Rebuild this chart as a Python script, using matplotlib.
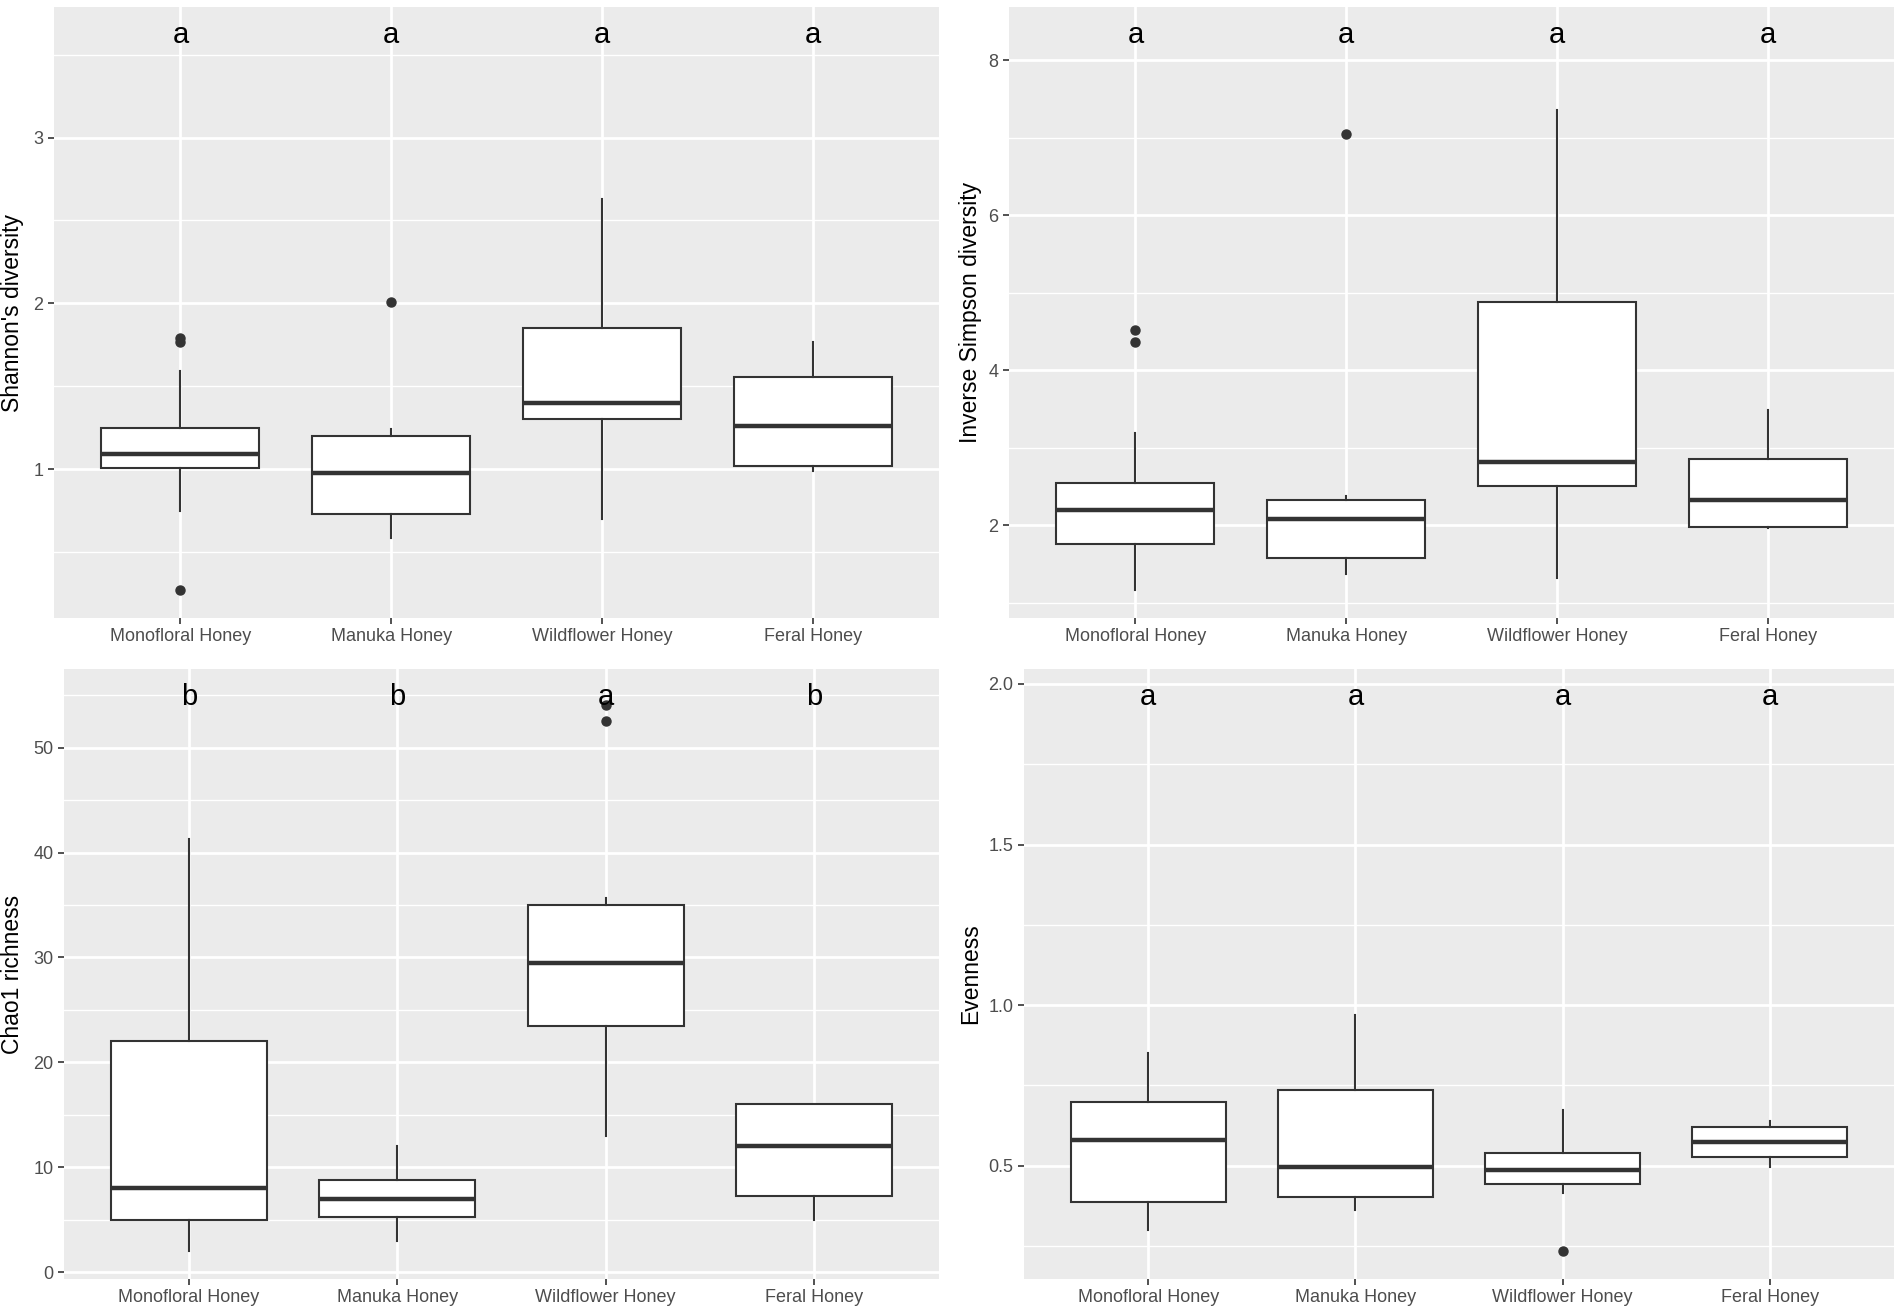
import numpy as np
import matplotlib
matplotlib.use("Agg")
import matplotlib.pyplot as plt

plt.rcParams['font.family'] = ['Liberation Sans', 'DejaVu Sans']

groups = ["Monofloral Honey", "Manuka Honey", "Wildflower Honey", "Feral Honey"]

# Shannon's diversity
shannon_q1 = [1.01, 0.73, 1.30, 1.02]
shannon_med = [1.09, 0.98, 1.40, 1.26]
shannon_q3 = [1.25, 1.20, 1.85, 1.555]
shannon_lo = [0.745, 0.585, 0.70, 0.99]
shannon_hi = [1.59, 1.24, 2.63, 1.765]
shannon_out = [[1.79, 1.77, 0.27], [2.01], [], []]
shannon_letters = ["a", "a", "a", "a"]
shannon_letter_y = 3.62

# Inverse Simpson diversity
invsimp_q1 = [1.76, 1.58, 2.50, 1.98]
invsimp_med = [2.20, 2.08, 2.81, 2.32]
invsimp_q3 = [2.545, 2.33, 4.88, 2.85]
invsimp_lo = [1.16, 1.37, 1.32, 1.96]
invsimp_hi = [3.19, 2.38, 7.36, 3.48]
invsimp_out = [[4.515, 4.36], [7.05], [], []]
invsimp_letters = ["a", "a", "a", "a"]
invsimp_letter_y = 8.33

# Chao1 richness
chao_q1 = [5.0, 5.3, 23.5, 7.3]
chao_med = [8.0, 7.0, 29.5, 12.0]
chao_q3 = [22.0, 8.8, 35.0, 16.0]
chao_lo = [2.0, 3.0, 13.0, 5.0]
chao_hi = [41.3, 12.0, 35.7, 16.0]
chao_out = [[], [], [54.1, 52.5], []]
chao_letters = ["b", "b", "a", "b"]
chao_letter_y = 54.85

# Evenness
even_q1 = [0.387, 0.404, 0.444, 0.526]
even_med = [0.579, 0.496, 0.488, 0.575]
even_q3 = [0.699, 0.736, 0.539, 0.620]
even_lo = [0.30, 0.362, 0.414, 0.496]
even_hi = [0.85, 0.968, 0.673, 0.638]
even_out = [[], [], [0.234], []]
even_letters = ["a", "a", "a", "a"]
even_letter_y = 1.96

W, H = 1901, 1314
fig = plt.figure(figsize=(W / 100, H / 100), dpi=100)


def panel(rect_px, q1, med, q3, lo, hi, out, letters, letter_y, ylabel, yticks, ytitle_x):
    x0, y0, x1, y1 = rect_px
    ax = fig.add_axes([x0 / W, 1 - y1 / H, (x1 - x0) / W, (y1 - y0) / H])
    ax.set_facecolor("#EBEBEB")
    stats = []
    for i in range(len(groups)):
        stats.append(dict(q1=q1[i], med=med[i], q3=q3[i], whislo=lo[i], whishi=hi[i],
                          fliers=out[i], label=groups[i]))
    pos = np.arange(1, len(groups) + 1)
    ax.bxp(stats, positions=pos, widths=0.75, showcaps=False, patch_artist=True,
           boxprops=dict(facecolor="white", edgecolor="#333333", linewidth=1.5),
           medianprops=dict(color="#333333", linewidth=3.2, solid_capstyle="butt"),
           whiskerprops=dict(color="#333333", linewidth=1.5),
           flierprops=dict(marker="o", markerfacecolor="#333333", markeredgecolor="#333333",
                           markersize=6.5))
    for p, t in zip(pos, letters):
        ax.text(p, letter_y, t, ha="center", va="center", fontsize=21, color="black")

    # ggplot-like 5% expansion of the data range
    allv = lo + hi + [letter_y] + [v for o in out for v in o]
    lo_v, hi_v = min(allv), max(allv)
    pad = (hi_v - lo_v) * 0.05
    ylo, yhi = lo_v - pad, hi_v + pad

    ax.set_yticks(yticks)
    step = yticks[1] - yticks[0]
    minor = np.arange(yticks[0] - step / 2, yticks[-1] + step, step)
    minor = minor[(minor > ylo) & (minor < yhi)]
    ax.set_yticks(minor, minor=True)
    ax.set_xticks(pos)
    ax.set_xticklabels(groups)
    ax.set_ylim(ylo, yhi)
    ax.set_xlim(0.4, len(groups) + 0.6)

    ax.grid(True, which="major", color="white", linewidth=2.0)
    ax.grid(True, which="minor", axis="y", color="white", linewidth=1.0)
    ax.set_axisbelow(True)
    for s in ax.spines.values():
        s.set_visible(False)
    ax.tick_params(which="major", length=4.5, width=1.2, color="#333333",
                   labelsize=13, labelcolor="#4D4D4D", pad=3)
    ax.tick_params(which="minor", length=0)
    ax.set_ylabel(ylabel, fontsize=16.5, color="black")
    ax.yaxis.set_label_coords((ytitle_x - x0) / (x1 - x0), 0.5)
    return ax


panel((54, 7, 939, 618), shannon_q1, shannon_med, shannon_q3, shannon_lo, shannon_hi,
      shannon_out, shannon_letters, shannon_letter_y, "Shannon's diversity", [1, 2, 3], 24)
panel((1009, 7, 1894, 618), invsimp_q1, invsimp_med, invsimp_q3, invsimp_lo, invsimp_hi,
      invsimp_out, invsimp_letters, invsimp_letter_y, "Inverse Simpson diversity", [2, 4, 6, 8], 982)
panel((64, 669, 939, 1279), chao_q1, chao_med, chao_q3, chao_lo, chao_hi,
      chao_out, chao_letters, chao_letter_y, "Chao1 richness", [0, 10, 20, 30, 40, 50], 24)
panel((1024, 669, 1894, 1279), even_q1, even_med, even_q3, even_lo, even_hi,
      even_out, even_letters, even_letter_y, "Evenness", [0.5, 1.0, 1.5, 2.0], 982)

fig.savefig("out.png", dpi=100, facecolor="white")
